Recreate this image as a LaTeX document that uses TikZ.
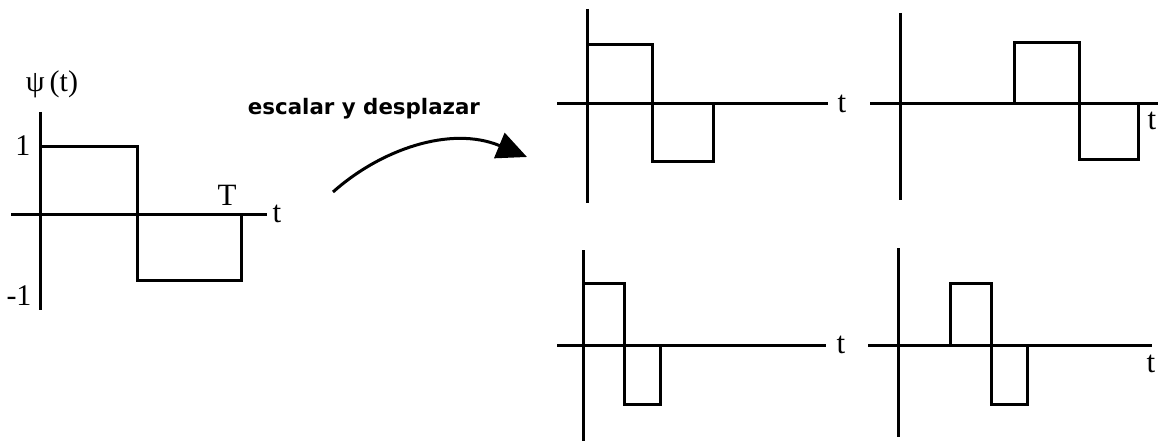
\documentclass[tikz,border=0pt]{standalone}
\usepackage{fontspec}
\usepackage{graphicx}
\setmainfont{Liberation Serif}
\newfontfamily\labelfont{DejaVu Sans}
\usetikzlibrary{arrows.meta}
\begin{document}
\begin{tikzpicture}[x=1pt,y=-1pt,
  axisline/.style={line width=3pt},
  pulseline/.style={line width=3pt,line join=miter},
  lbl/.style={inner sep=0pt,font=\fontsize{30}{32}\selectfont},
  tlbl/.style={inner sep=0pt,font=\fontsize{31}{33}\selectfont}]
\useasboundingbox (0,0) rectangle (1159,441);
\fill[white] (0,0) rectangle (1159,441);

% ---- left: mother wavelet
\draw[axisline] (40,112) -- (40,310);
\draw[axisline] (11,214) -- (267,214);
\draw[pulseline] (40,147) -- (137,147) -- (137,280) -- (241,280) -- (241,214);
\node[lbl] (psi) at (52,84) {ψ\,(t)};
\node[lbl] (one) at (23,146) {1};
\node[lbl] (mone) at (19,296) {-1};
\node[tlbl] (T) at (227,195) {T};
\node[tlbl] (t0) at (277,214) {t};

% ---- arrow and label
\node[inner sep=0pt] (esc) at (364,109) {\resizebox{232pt}{!}{\labelfont\bfseries escalar y desplazar}};
\coordinate (as) at (333,192);
\coordinate (ae) at (527,157);
\draw[line width=3pt,-{Triangle[length=30pt,width=27pt]}] (as) .. controls (380,150) and (450,125) .. (ae);

% ---- graph A (top left)
\draw[axisline] (587,9) -- (587,203);
\draw[axisline] (557,104) -- (828,104);
\draw[pulseline] (587,45) -- (652,45) -- (652,161) -- (713,161) -- (713,104);
\node[tlbl] (tA) at (842,104) {t};

% ---- graph B (top right)
\draw[axisline] (900,13) -- (900,200);
\draw[axisline] (870,104) -- (1158,104);
\draw[pulseline] (1014,104) -- (1014,43) -- (1079,43) -- (1079,159) -- (1138,159) -- (1138,104);
\node[tlbl] (tB) at (1152,121) {t};

% ---- graph C (bottom left)
\draw[axisline] (583,250) -- (583,441);
\draw[axisline] (557,345) -- (826,345);
\draw[pulseline] (583,283) -- (624,283) -- (624,404) -- (660,404) -- (660,345);
\node[tlbl] (tC) at (841,345) {t};

% ---- graph D (bottom right)
\draw[axisline] (898,248) -- (898,437);
\draw[axisline] (868,345) -- (1152,345);
\draw[pulseline] (950,345) -- (950,283) -- (991,283) -- (991,404) -- (1027,404) -- (1027,345);
\node[tlbl] (tD) at (1151,364) {t};
\end{tikzpicture}
\end{document}
